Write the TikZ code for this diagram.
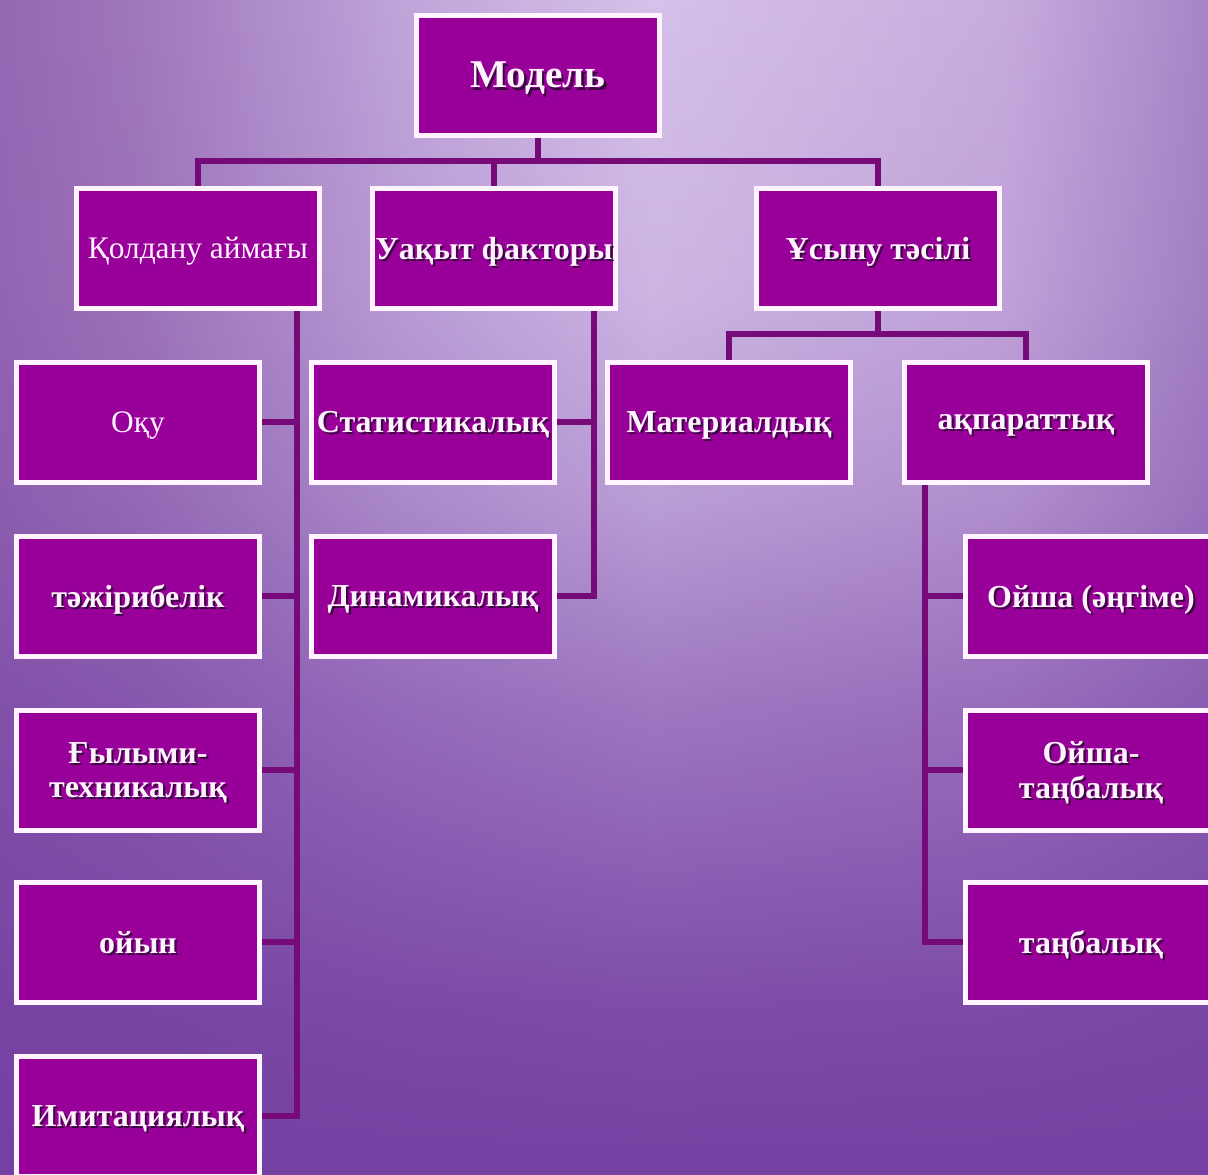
\documentclass[tikz,border=0pt]{standalone}
\usepackage{fontspec}
\setmainfont{Liberation Serif}
\usetikzlibrary{fadings}
\definecolor{boxc}{HTML}{990099}
\definecolor{linec}{HTML}{750A78}
\definecolor{txtc}{HTML}{FFF2FF}
\definecolor{shc}{HTML}{3A0840}
\definecolor{edgec}{HTML}{FFF4FF}
\definecolor{bgdark}{HTML}{7440A2}
\definecolor{bga}{HTML}{9468B4}
\definecolor{bgb}{HTML}{A078BC}
\definecolor{bgc}{HTML}{C0A4DA}
\definecolor{bgd}{HTML}{D6C2EA}
\definecolor{bge}{HTML}{C8ACDE}
\definecolor{bgf}{HTML}{A684C6}
\pgfdeclarehorizontalshading{bghor}{100bp}{color(0bp)=(bga); color(25bp)=(bga); color(31bp)=(bgb); color(41.6bp)=(bgc); color(52bp)=(bgd); color(66.4bp)=(bge); color(75bp)=(bgf); color(100bp)=(bgf)}
\pgfdeclareverticalshading{bgfadeshade}{100bp}{color(0bp)=(white); color(25bp)=(white); color(32.4bp)=(white!90!black); color(45.2bp)=(white!57!black); color(53.7bp)=(white!28!black); color(62.2bp)=(white!10!black); color(75bp)=(black); color(100bp)=(black)}
\pgfdeclarefading{bgfade}{\pgfuseshading{bgfadeshade}}
\newcommand\sh[1]{\leavevmode\rlap{\hspace{1.6pt}\raisebox{-1.6pt}{\textcolor{shc}{#1}}}#1}
\pgfdeclarelayer{bgl}
\pgfdeclarelayer{lines}
\pgfsetlayers{bgl,lines,main}
\begin{document}
\begin{tikzpicture}[x=0.75pt,y=-0.75pt,
  bx/.style={draw=edgec, line width=3.75pt, fill=boxc, text=txtc,
    minimum width=182.25pt, minimum height=90pt, inner sep=0pt, align=center,
    text depth=0pt, font=\bfseries\fontsize{24}{26}\selectfont},
  regbx/.style={bx, font=\fontsize{23.5}{26}\selectfont},
  widebx/.style={bx, minimum width=188.25pt},
  conn/.style={draw=linec, line width=4.5pt, line join=miter}]
\useasboundingbox (0,0) rectangle (1208,1175);
\begin{pgfonlayer}{bgl}
\shade[shading=bghor] (-8,-8) rectangle (1216,1183);
\fill[bgdark, path fading=bgfade] (-8,-8) rectangle (1216,1183);
\end{pgfonlayer}

\node[bx, font=\bfseries\fontsize{29.5}{32}\selectfont] (M) at (538,75) {\sh{Модель}};
\node[regbx] (K) at (198,248) {Қолдану аймағы};
\node[bx] (U) at (494,248) {\sh{Уақыт факторы}};
\node[bx] (S) at (878,248) {\sh{Ұсыну тәсілі}};

\node[regbx] (a1) at (138,422) {Оқу};
\node[bx] (a2) at (138,596) {\sh{тәжірибелік}};
\node[bx] (a3) at (138,770) {\sh{Ғылыми-}\\\sh{техникалық}};
\node[bx] (a4) at (138,942) {\sh{ойын}};
\node[bx] (a5) at (138,1116) {\sh{Имитациялық}};

\node[bx] (b1) at (433,422) {\sh{Статистикалық}};
\node[bx] (b2) at (433,596) {\sh{Динамикалық}};

\node[bx] (Mat) at (729,422) {\sh{Материалдық}};
\node[bx] (Ak) at (1026,422) {\sh{ақпараттық}};

\node[widebx] (c1) at (1091,596) {\sh{Ойша (әңгіме)}};
\node[widebx] (c2) at (1091,770) {\sh{Ойша-}\\\sh{таңбалық}};
\node[widebx] (c3) at (1091,942) {\sh{таңбалық}};

\begin{pgfonlayer}{lines}
\draw[conn] (M.south) -- ++(0,23) -| (K.north);
\draw[conn] (M.south) -- ++(0,23) -| (U.north);
\draw[conn] (M.south) -- ++(0,23) -| (S.north);
\coordinate (kt) at ([xshift=-18.75pt]K.south east);
\foreach \n in {a1,a2,a3,a4,a5} \draw[conn] (kt) |- (\n.east);
\coordinate (ut) at ([xshift=-18pt]U.south east);
\foreach \n in {b1,b2} \draw[conn] (ut) |- (\n.east);
\draw[conn] (S.south) -- ++(0,23) -| (Mat.north);
\draw[conn] (S.south) -- ++(0,23) -| (Ak.north);
\coordinate (at) at ([xshift=17.25pt]Ak.south west);
\foreach \n in {c1,c2,c3} \draw[conn] (at) |- (\n.west);
\end{pgfonlayer}
\end{tikzpicture}
\end{document}
